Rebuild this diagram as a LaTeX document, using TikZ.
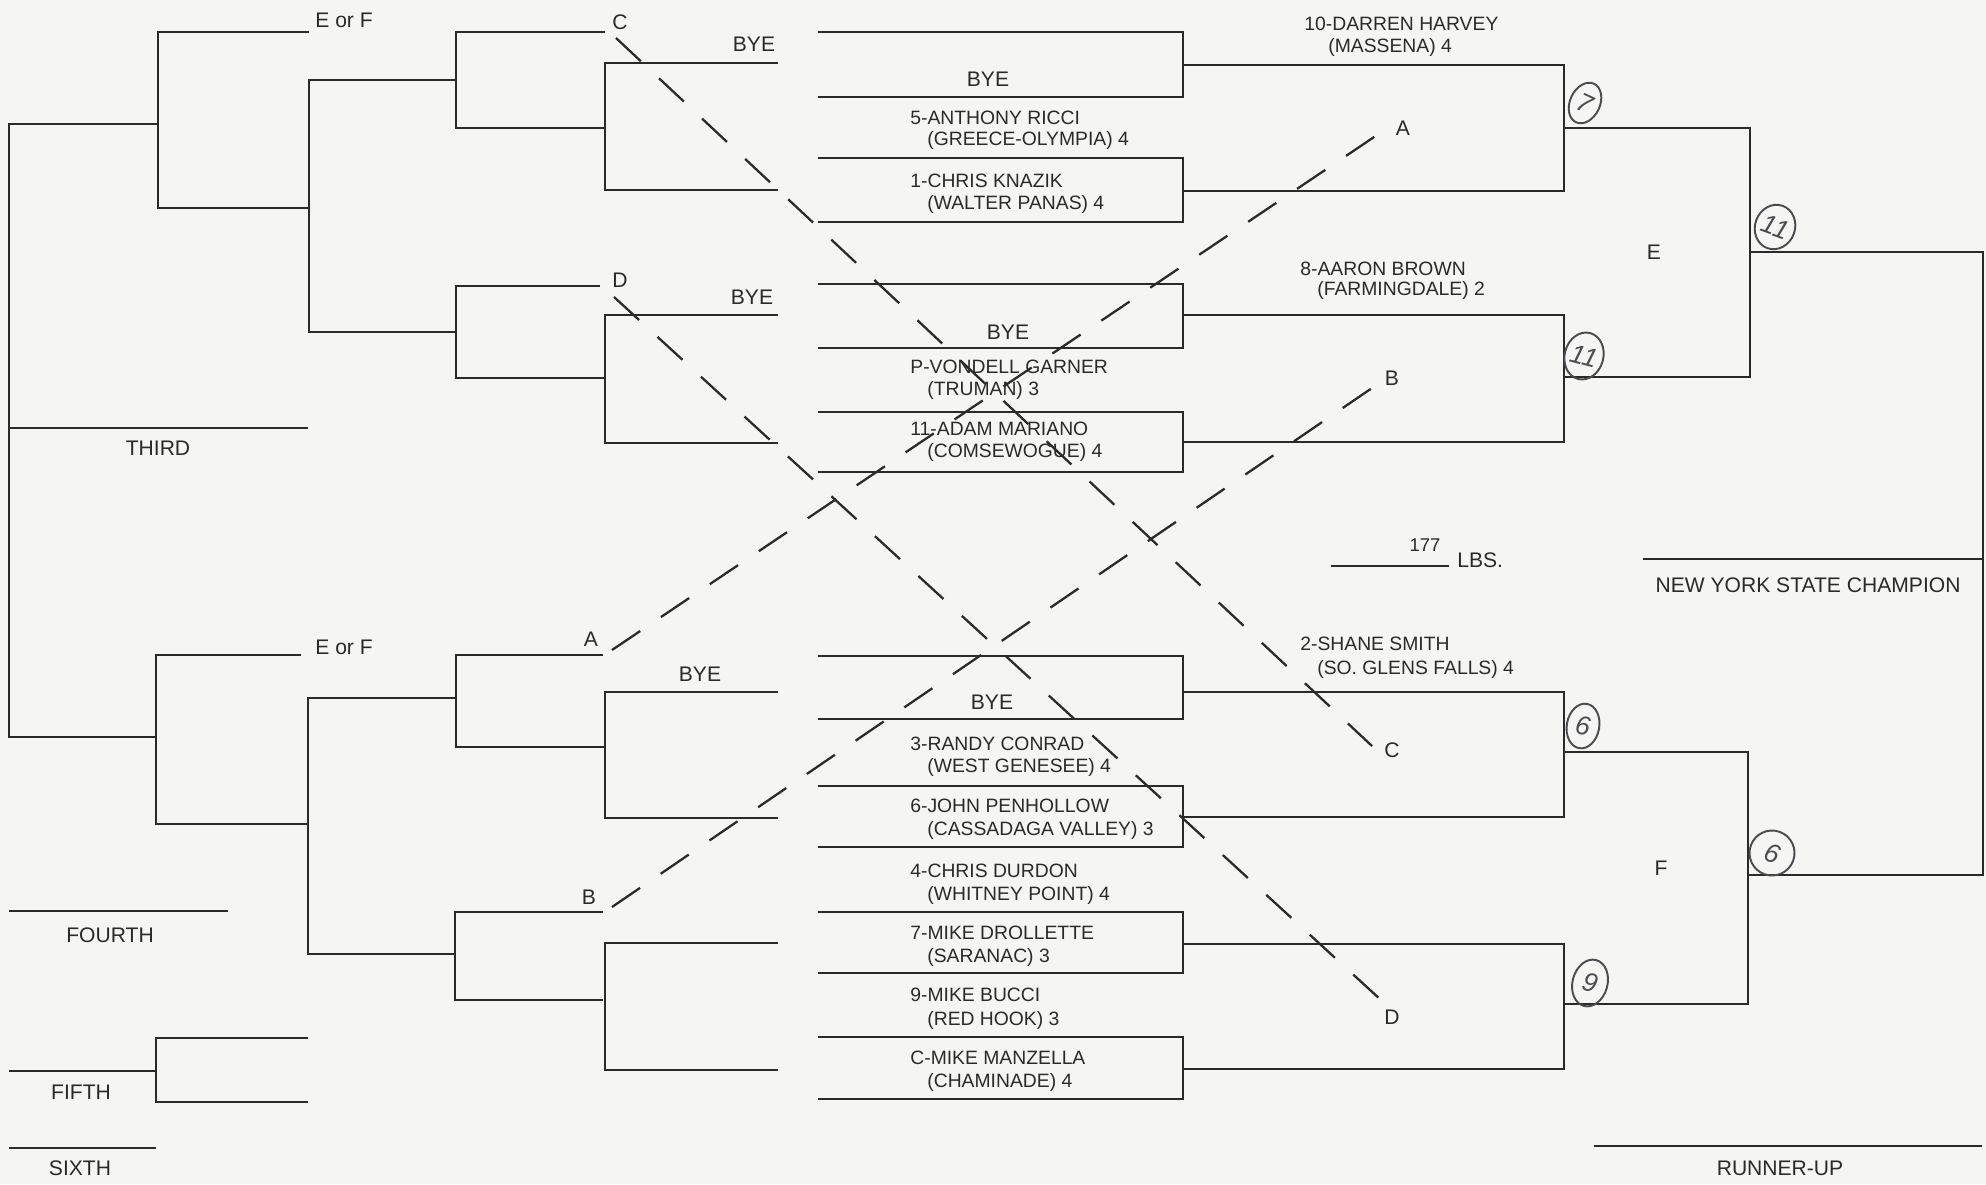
\documentclass[tikz,border=0pt]{standalone}
\usepackage{fontspec}
\setmainfont{Liberation Sans}
\usetikzlibrary{shapes.geometric}
\definecolor{ink}{RGB}{42,42,42}
\definecolor{paper}{RGB}{245,245,243}
\definecolor{pencil}{RGB}{75,75,80}
\tikzset{
  bline/.style = {draw=ink, line width=1.5pt},
  drop/.style = {draw=ink, line width=1.3pt, dash pattern=on 6.8mm off 5mm},
  wr/.style = {anchor=base west, inner sep=0pt, text=ink,
    font=\fontsize{11}{13}\selectfont},
  lbl/.style = {inner sep=0pt, text=ink, font=\fontsize{12}{14}\selectfont},
  circ/.style = {ellipse, draw=pencil, line width=1.1pt, inner sep=0pt,
    text=pencil, font=\itshape\fontsize{15}{17}\selectfont}
}

\begin{document}
\begin{tikzpicture}[x=0.02cm, y=-0.02cm]
\fill[paper] (0,0) rectangle (1986,1184);
\useasboundingbox (0,0) rectangle (1986,1184);

% championship side
\foreach \t/\b in {32/97,158/222,284/348,412/472,656/719,786/847,912/973,1037/1099}
  \draw[bline] (818,\t) -- (1183,\t) -- (1183,\b) -- (818,\b);
\foreach \t/\b in {65/191,315/442,692/817,944/1069}
  \draw[bline] (1183,\t) -- (1564,\t) -- (1564,\b) -- (1183,\b);
\draw[bline] (1564,128) -- (1750,128) -- (1750,377) -- (1564,377);
\draw[bline] (1564,752) -- (1748,752) -- (1748,1004) -- (1564,1004);
\draw[bline] (1750,252) -- (1983,252) -- (1983,875) -- (1748,875);
\draw[bline] (1643,559) -- (1983,559);
\draw[bline] (1594,1146) -- (1982,1146);
\draw[bline] (1331,566) -- (1449,566);

% consolation side
\foreach \t/\b in {63/190,315/443,692/818,943/1070}
  \draw[bline] (778,\t) -- (605,\t) -- (605,\b) -- (778,\b);
\draw[bline] (605,32) -- (456,32) -- (456,128) -- (605,128);
\draw[bline] (600,286) -- (456,286) -- (456,378) -- (605,378);
\draw[bline] (603,655) -- (456,655) -- (456,747) -- (605,747);
\draw[bline] (603,912) -- (455,912) -- (455,1000) -- (603,1000);
\draw[bline] (456,80) -- (309,80) -- (309,332) -- (456,332);
\draw[bline] (456,698) -- (308,698) -- (308,954) -- (455,954);
\draw[bline] (309,32) -- (158,32) -- (158,208) -- (309,208);
\draw[bline] (301,655) -- (156,655) -- (156,824) -- (308,824);
\draw[bline] (158,124) -- (9,124) -- (9,737) -- (156,737);
\draw[bline] (9,428) -- (308,428);
\draw[bline] (9,911) -- (228,911);
\draw[bline] (308,1038) -- (156,1038) -- (156,1102) -- (308,1102);
\draw[bline] (9,1071) -- (156,1071);
\draw[bline] (9,1148) -- (156,1148);

% wrestlers
\foreach \y/\t in {124/5-ANTHONY RICCI, 187/1-CHRIS KNAZIK, 373/P-VONDELL GARNER,
  435/11-ADAM MARIANO, 750/3-RANDY CONRAD, 812/6-JOHN PENHOLLOW,
  877/4-CHRIS DURDON, 939/7-MIKE DROLLETTE, 1001/9-MIKE BUCCI,
  1064/C-MIKE MANZELLA}
  \node[wr] (w\y) at (910,\y) {\t};
\foreach \y/\t in {145/{(GREECE-OLYMPIA) 4}, 209/{(WALTER PANAS) 4},
  395/{(TRUMAN) 3}, 457/{(COMSEWOGUE) 4}, 772/{(WEST GENESEE) 4},
  835/{(CASSADAGA VALLEY) 3}, 900/{(WHITNEY POINT) 4}, 962/{(SARANAC) 3},
  1025/{(RED HOOK) 3}, 1087/{(CHAMINADE) 4}}
  \node[wr] (s\y) at (927,\y) {\t};
\node[wr] (w30) at (1304,30) {10-DARREN HARVEY};
\node[wr] (s52) at (1328,52) {(MASSENA) 4};
\node[wr] (w275) at (1300,275) {8-AARON BROWN};
\node[wr] (s295) at (1317,295) {(FARMINGDALE) 2};
\node[wr] (w650) at (1300,650) {2-SHANE SMITH};
\node[wr] (s674) at (1317,674) {(SO. GLENS FALLS) 4};

% byes
\node[lbl] (bye1) at (988,79) {BYE};
\node[lbl] (bye2) at (1008,332) {BYE};
\node[lbl] (bye3) at (992,702) {BYE};
\node[lbl] (cbye1) at (754,44) {BYE};
\node[lbl] (cbye2) at (752,297) {BYE};
\node[lbl] (cbye3) at (700,674) {BYE};

% letters
\node[lbl, anchor=west] (eof1) at (315,20) {E or F};
\node[lbl, anchor=west] (eof2) at (315,647) {E or F};
\node[lbl] (lC) at (620,22) {C};
\node[lbl] (lD) at (620,280) {D};
\node[lbl] (lA) at (591,639) {A};
\node[lbl] (lB) at (589,897) {B};
\node[lbl] (rA) at (1403,128) {A};
\node[lbl] (rB) at (1392,378) {B};
\node[lbl] (rC) at (1392,750) {C};
\node[lbl] (rD) at (1392,1017) {D};
\node[lbl] (semE) at (1654,252) {E};
\node[lbl] (semF) at (1661,868) {F};

% places
\node[lbl] (third) at (158,448) {THIRD};
\node[lbl] (fourth) at (110,935) {FOURTH};
\node[lbl] (fifth) at (81,1092) {FIFTH};
\node[lbl] (sixth) at (80,1168) {SIXTH};
\node[lbl] (champ) at (1808,585) {NEW YORK STATE CHAMPION};
\node[lbl] (runner) at (1780,1168) {RUNNER-UP};
\node[lbl, font=\fontsize{10.5}{12}\selectfont] (wt) at (1425,545) {177};
\node[lbl, anchor=west] (lbs) at (1457,560) {LBS.};

% losers cross over
\coordinate (a1) at (612,650);  \coordinate (a2) at (1383,131);
\coordinate (b1) at (612,907);  \coordinate (b2) at (1372,388);
\coordinate (c1) at (616,38);   \coordinate (c2) at (1372,746);
\coordinate (d1) at (614,297);  \coordinate (d2) at (1381,1000);
\draw[drop] (a1) -- (a2);
\draw[drop] (b1) -- (b2);
\draw[drop] (c1) -- (c2);
\draw[drop] (d1) -- (d2);

% pencil marks
\node[circ, minimum width=0.6cm, minimum height=0.85cm, rotate=-25] (h1) at (1585,103) {7};
\node[circ, minimum width=0.8cm, minimum height=0.9cm, rotate=-20] (h2) at (1775,227) {11};
\node[circ, minimum width=0.7cm, minimum height=0.95cm, rotate=-15] (h3) at (1584,356) {11};
\node[circ, minimum width=0.65cm, minimum height=0.9cm, rotate=-10] (h4) at (1583,726) {6};
\node[circ, minimum width=0.9cm, minimum height=0.9cm, rotate=-20] (h5) at (1772,853) {6};
\node[circ, minimum width=0.7cm, minimum height=0.95cm, rotate=-15] (h6) at (1590,983) {9};
\end{tikzpicture}
\end{document}
